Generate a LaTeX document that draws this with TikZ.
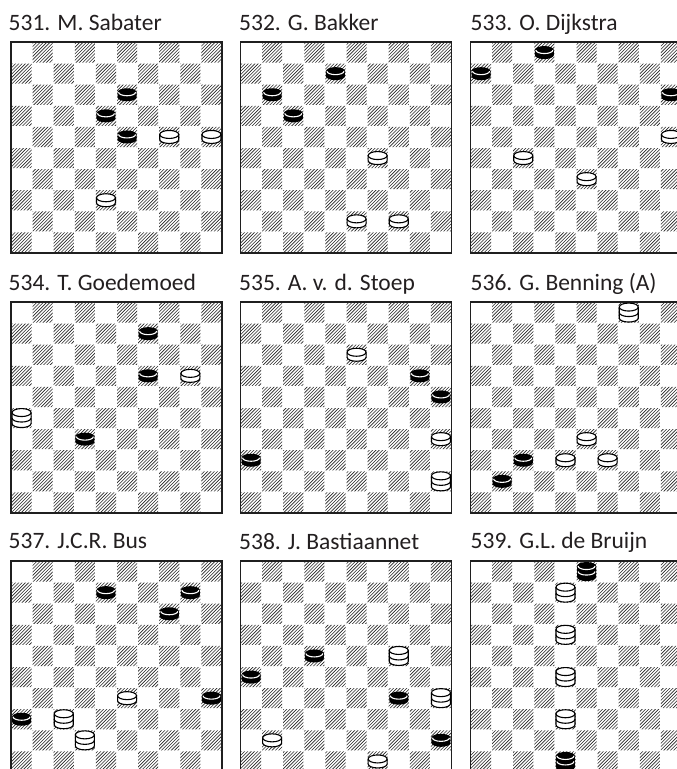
\documentclass[tikz,border=0pt]{standalone}
\usepackage{fontspec}
\setmainfont{Carlito}
\definecolor{ink}{HTML}{231F20}
\newcommand\sq{21.1}
\newcommand\pa{9.5}
\newcommand\pry{4}
\newcommand\ph{2.5}
\newcommand\hk{5.5}
\newcommand\pc[3]{\pic at ({(#2+.5)*\sq},{-(#3+.5)*\sq}) {#1};}
\tikzset{
  hatch/.style={line width=0.6pt, draw=black!85},
  frame/.style={line width=1.8pt, draw=black!88},
  title/.style={anchor=base west, inner sep=0pt, text=ink, font=\fontsize{23.5}{28}\selectfont},
  pline/.style={line width=1.1pt, draw=black},
  board/.pic={
    \begin{scope}
      \clip \foreach \r in {0,...,9}{\foreach \k in {0,...,4}{({(2*\k+mod(\r+1,2))*\sq+0.5},{-\r*\sq-0.5}) rectangle ++(\sq-1,-\sq+1)}};
      \draw[hatch] \foreach \u in {-65,...,65}{({\u*3.3},{-10*\sq}) -- ++({10*\sq},{10*\sq})};
    \end{scope}
    \draw[frame] (0,0) rectangle ({10*\sq},{-10*\sq});
  },
  bman/.pic={
    \fill[black] (-\pa,\ph) arc[start angle=180,end angle=0,x radius=\pa,y radius=\pry] -- (\pa,-\ph) arc[start angle=0,end angle=-180,x radius=\pa,y radius=\pry] -- cycle;
    \draw[white,line width=1.1pt] (-\pa+1,\ph) arc[start angle=180,end angle=360,x radius=\pa-1,y radius=\pry-0.5];
  },
  wman/.pic={
    \filldraw[pline,fill=white] (-\pa,\ph) arc[start angle=180,end angle=0,x radius=\pa,y radius=\pry] -- (\pa,-\ph) arc[start angle=0,end angle=-180,x radius=\pa,y radius=\pry] -- cycle;
    \draw[pline] (-\pa,\ph) arc[start angle=180,end angle=360,x radius=\pa,y radius=\pry];
  },
  wking/.pic={
    \filldraw[pline,fill=white] (-\pa,\hk) arc[start angle=180,end angle=0,x radius=\pa,y radius=\pry] -- (\pa,-\hk) arc[start angle=0,end angle=-180,x radius=\pa,y radius=\pry] -- cycle;
    \draw[pline] (-\pa,\hk) arc[start angle=180,end angle=360,x radius=\pa,y radius=\pry];
    \draw[pline] (-\pa,0) arc[start angle=180,end angle=360,x radius=\pa,y radius=\pry];
  },
  bking/.pic={
    \fill[black] (-\pa,\hk) arc[start angle=180,end angle=0,x radius=\pa,y radius=\pry] -- (\pa,-\hk) arc[start angle=0,end angle=-180,x radius=\pa,y radius=\pry] -- cycle;
    \draw[white,line width=1.1pt] (-\pa+1,\hk) arc[start angle=180,end angle=360,x radius=\pa-1,y radius=\pry-0.5];
    \draw[white,line width=1.1pt] (-\pa+1,0) arc[start angle=180,end angle=360,x radius=\pa-1,y radius=\pry-0.5];
  }
}
\begin{document}
\begin{tikzpicture}[x=1pt,y=1pt]
\clip (0,0) rectangle (677,-769);
\fill[white] (0,0) rectangle (677,-769);
% titles
\node[title] (t531) at (8.5,-30) {531. M. Sabater};
\node[title] (t532) at (239,-30) {532. G. Bakker};
\node[title] (t533) at (470.5,-30) {533. O. Dijkstra};
\node[title] (t534) at (8.5,-290) {534. T. Goedemoed};
\node[title] (t535) at (239,-290) {535. A. v. d. Stoep};
\node[title] (t536) at (470.5,-290) {536. G. Benning (A)};
\node[title] (t537) at (8.5,-548) {537. J.C.R. Bus};
\node[title] (t538) at (239,-549.5) {538. J. Bastiaannet};
\node[title] (t539) at (470.5,-548) {539. G.L. de Bruijn};
% 531
\begin{scope}[shift={(11,-42)}]
  \pic {board};
  \pc{bman}{5}{2}\pc{bman}{4}{3}\pc{bman}{5}{4}\pc{wman}{7}{4}\pc{wman}{9}{4}\pc{wman}{4}{7}
\end{scope}
% 532
\begin{scope}[shift={(240.5,-42)}]
  \pic {board};
  \pc{bman}{4}{1}\pc{bman}{1}{2}\pc{bman}{2}{3}\pc{wman}{6}{5}\pc{wman}{5}{8}\pc{wman}{7}{8}
\end{scope}
% 533
\begin{scope}[shift={(470.5,-42)}]
  \pic {board};
  \pc{bman}{3}{0}\pc{bman}{0}{1}\pc{bman}{9}{2}\pc{wman}{9}{4}\pc{wman}{2}{5}\pc{wman}{5}{6}
\end{scope}
% 534
\begin{scope}[shift={(11,-302)}]
  \pic {board};
  \pc{bman}{6}{1}\pc{bman}{6}{3}\pc{wman}{8}{3}\pc{wking}{0}{5}\pc{bman}{3}{6}
\end{scope}
% 535
\begin{scope}[shift={(240.5,-302)}]
  \pic {board};
  \pc{wman}{5}{2}\pc{bman}{8}{3}\pc{bman}{9}{4}\pc{wman}{9}{6}\pc{wking}{9}{8}\pc{bman}{0}{7}
\end{scope}
% 536
\begin{scope}[shift={(470.5,-302)}]
  \pic {board};
  \pc{wking}{7}{0}\pc{wman}{5}{6}\pc{bman}{2}{7}\pc{wman}{4}{7}\pc{wman}{6}{7}\pc{bman}{1}{8}
\end{scope}
% 537
\begin{scope}[shift={(11,-561)}]
  \pic {board};
  \pc{bman}{4}{1}\pc{bman}{8}{1}\pc{bman}{7}{2}\pc{wman}{5}{6}\pc{bman}{9}{6}\pc{bman}{0}{7}\pc{wking}{2}{7}\pc{wking}{3}{8}
\end{scope}
% 538
\begin{scope}[shift={(240.5,-561)}]
  \pic {board};
  \pc{bman}{3}{4}\pc{wking}{7}{4}\pc{bman}{0}{5}\pc{bman}{7}{6}\pc{wking}{9}{6}\pc{wman}{1}{8}\pc{bman}{9}{8}\pc{wman}{6}{9}
\end{scope}
% 539
\begin{scope}[shift={(470.5,-561)}]
  \pic {board};
  \pc{bking}{5}{0}\pc{wking}{4}{1}\pc{wking}{4}{3}\pc{wking}{4}{5}\pc{wking}{4}{7}\pc{bking}{4}{9}
\end{scope}
\end{tikzpicture}
\end{document}
